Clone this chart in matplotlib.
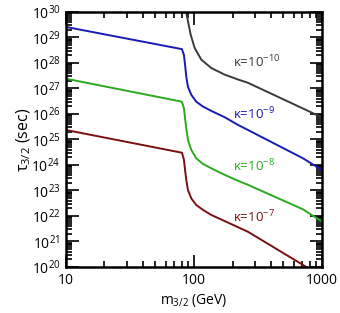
import numpy as np
import matplotlib
matplotlib.use('Agg')
import matplotlib.pyplot as plt
from matplotlib.ticker import FixedLocator, FixedFormatter, LogLocator, NullFormatter

plt.rcParams['font.family'] = ['Open Sans', 'DejaVu Sans']
plt.rcParams['mathtext.fontset'] = 'custom'
plt.rcParams['mathtext.rm'] = 'Open Sans'
plt.rcParams['mathtext.it'] = 'Open Sans'

# gravitino mass (GeV) and log10 lifetime (sec)
m_vals = [10, 80.5, 83.5, 85.5, 87.1, 89.7, 95.3, 104.2, 117.5, 136.5,
          173.8, 220.8, 264.2, 711, 1000]

logtau_k9 = [29.41, 28.54, 28.31, 27.85, 27.46, 27.07, 26.75, 26.48, 26.29, 26.12,
             25.87, 25.57, 25.37, 24.26, 23.80]
logtau_k8 = [27.38, 26.48, 26.22, 25.76, 25.44, 24.98, 24.59, 24.26, 24.04, 23.87,
             23.61, 23.38, 23.22, 22.26, 21.78]
logtau_k7 = [25.37, 24.48, 24.20, 23.74, 23.41, 23.02, 22.69, 22.43, 22.24, 22.04,
             21.80, 21.56, 21.38, 20.08, 19.60]

m_k10 = [84.0, 85.5, 89.7, 94.2, 101.2, 114.0, 136.5, 173.8, 220.8, 264.2, 910, 1000]
logtau_k10 = [30.40, 30.16, 29.64, 29.11, 28.59, 28.13, 27.80, 27.54, 27.35, 27.22,
              25.96, 25.87]

series = [
    (m_k10, logtau_k10, '#3a3a3a', r'$\kappa$=10$^{-10}$', 62),
    (m_vals, logtau_k9, '#1a1ab4', r'$\kappa$=10$^{-9}$', 114),
    (m_vals, logtau_k8, '#2aaa1e', r'$\kappa$=10$^{-8}$', 166),
    (m_vals, logtau_k7, '#7a1010', r'$\kappa$=10$^{-7}$', 217),
]

fig = plt.figure(figsize=(3.4, 3.13), dpi=100)
ax = fig.add_axes([0.194, 0.147, 0.753, 0.815])

for m, logtau, col, lab, ypix in series:
    ax.plot(m, 10 ** np.array(logtau), color=col, lw=1.4, solid_joinstyle='round')
    ax.text(0.651, 1 - (ypix - 12) / 255, lab, color=col, fontsize=9.5,
            transform=ax.transAxes, va='center', ha='left')

ax.set_xscale('log')
ax.set_yscale('log')
ax.set_xlim(10, 1000)
ax.set_ylim(1e20, 1e30)

ax.xaxis.set_major_locator(FixedLocator([10, 100, 1000]))
ax.xaxis.set_major_formatter(FixedFormatter(['10', '100', '1000']))
ax.xaxis.set_minor_locator(LogLocator(base=10, subs=np.arange(2, 10), numticks=20))
ax.xaxis.set_minor_formatter(NullFormatter())
ax.yaxis.set_major_locator(LogLocator(base=10, numticks=20))
ax.yaxis.set_minor_locator(LogLocator(base=10, subs=np.arange(2, 10), numticks=200))
ax.yaxis.set_minor_formatter(NullFormatter())

ax.tick_params(which='both', direction='in', top=True, right=True, width=1.2)
ax.tick_params(which='major', length=9, labelsize=10, pad=4)
ax.tick_params(which='minor', length=4.5)
for s in ax.spines.values():
    s.set_linewidth(1.8)

ax.set_xlabel(r'm$_{3/2}$ (GeV)', fontsize=10, labelpad=3)
ax.set_ylabel(r'$\tau_{3/2}$ (sec)', fontsize=11.5, labelpad=-1)

fig.savefig('out.png', dpi=100)
